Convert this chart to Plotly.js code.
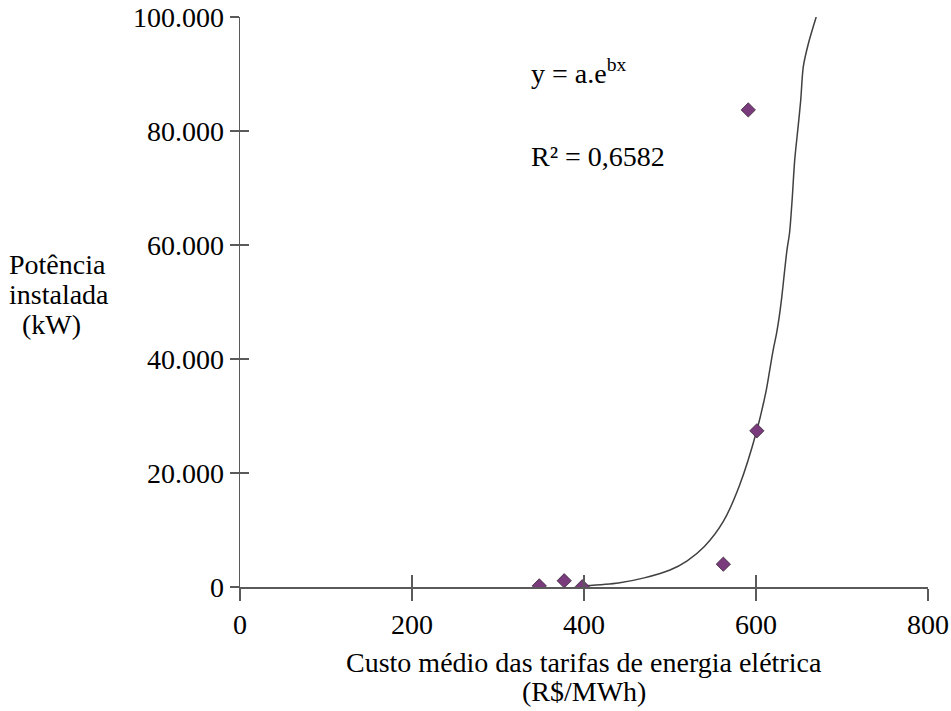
<!DOCTYPE html>
<html>
<head>
<meta charset="utf-8">
<script src="https://cdn.plot.ly/plotly-3.0.1.min.js"></script>
<style>html,body{margin:0;padding:0;background:#fff;}#chart{width:951px;height:711px;}</style>
</head>
<body>
<div id="chart"></div>
<script>
// Observed data points (custo médio R$/MWh, potência instalada kW)
const custo = [348, 377, 398, 562, 591, 601];
const potencia = [200, 1100, 50, 4000, 83700, 27400];

// Trendline
const curvaX = [400, 440, 470, 500, 520, 540, 562, 581, 601, 612, 616, 620, 624, 627, 630, 633, 636, 639, 642, 645, 649, 652, 655, 661, 670];
const curvaY = [200, 700, 1600, 2980, 4600, 7100, 11500, 17900, 27500, 34600, 38100, 41600, 44600, 47400, 50900, 55100, 59100, 62100, 67900, 74900, 80800, 85400, 91300, 95400, 100000];

const xTicks = [0, 200, 400, 600, 800];
const yTicks = [0, 20000, 40000, 60000, 80000, 100000];
const yTickText = ['0', '20.000', '40.000', '60.000', '80.000', '100.000'];

const AX = '#5a5a5a';
function f() { return {family: 'Liberation Serif', size: 28, color: '#000'}; }

const traces = [
  {x: curvaX, y: curvaY, mode: 'lines', line: {color: '#404040', width: 1.5, shape: 'spline', smoothing: 0.8}, hoverinfo: 'skip', showlegend: false},
  {x: custo, y: potencia, mode: 'markers', marker: {symbol: 'diamond', size: 11, color: '#7a3b7c', line: {color: '#3a2a3a', width: 0.8}}, showlegend: false}
];

function ann(x, y, xa, t) {
  return {xref: 'paper', yref: 'paper', x: x, y: y, xanchor: xa, yanchor: 'middle', showarrow: false, text: t, font: f()};
}

const layout = {
  width: 951, height: 711,
  margin: {l: 240, r: 23, t: 17, b: 124},
  paper_bgcolor: '#fff', plot_bgcolor: '#fff',
  font: f(),
  showlegend: false,
  xaxis: {range: [0, 800], tickvals: xTicks, ticktext: xTicks.map(String), showgrid: false, zeroline: false,
          showline: true, linecolor: AX, linewidth: 1.5, ticks: 'outside', ticklen: 12, tickcolor: AX, tickwidth: 1.5,
          tickfont: f(), fixedrange: true},
  yaxis: {range: [0, 100000], tickvals: yTicks, ticktext: yTickText, showgrid: false, zeroline: false,
          showline: true, linecolor: AX, linewidth: 1.5, ticks: 'outside', ticklen: 9, tickcolor: AX, tickwidth: 1.5,
          tickfont: f(), fixedrange: true},
  xaxis2: {overlaying: 'x', range: [0, 800], tickvals: xTicks, showticklabels: false, showgrid: false, zeroline: false,
           showline: false, ticks: 'inside', ticklen: 12, tickcolor: AX, tickwidth: 1.5, side: 'bottom', anchor: 'y'},
  yaxis2: {overlaying: 'y', range: [0, 100000], tickvals: yTicks, showticklabels: false, showgrid: false, zeroline: false,
           showline: false, ticks: 'inside', ticklen: 9, tickcolor: AX, tickwidth: 1.5, side: 'left', anchor: 'x'},
  annotations: [
    ann(0.42, 0.905, 'left', 'y = a.e<sup>bx</sup>'),
    ann(0.42, 0.755, 'left', 'R² = 0,6582'),
    ann(-0.339, 0.565, 'left', 'Potência'),
    ann(-0.339, 0.513, 'left', 'instalada'),
    ann(-0.32, 0.46, 'left', '(kW)'),
    ann(0.5, -0.132, 'center', 'Custo médio das tarifas de energia elétrica'),
    ann(0.5, -0.184, 'center', '(R$/MWh)')
  ]
};

// invisible trace to activate the secondary tick axes
traces.push({x: [0], y: [0], xaxis: 'x2', yaxis: 'y2', mode: 'markers', marker: {opacity: 0}, hoverinfo: 'skip', showlegend: false});

Plotly.newPlot('chart', traces, layout, {displayModeBar: false, staticPlot: true});
</script>
</body>
</html>
